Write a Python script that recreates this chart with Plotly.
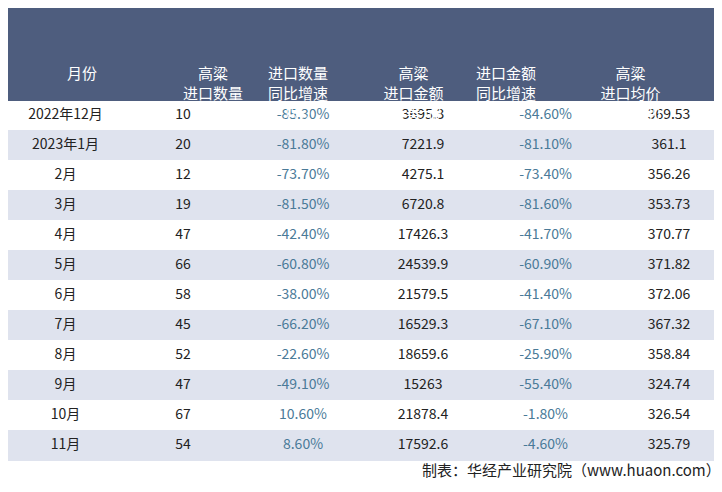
import plotly.graph_objects as go

months = ["2022年12月","2023年1月","2月","3月","4月","5月","6月","7月","8月","9月","10月","11月"]
qty = ["10","20","12","19","47","66","58","45","52","47","67","54"]
qty_yoy = ["-85.30%","-81.80%","-73.70%","-81.50%","-42.40%","-60.80%","-38.00%","-66.20%","-22.60%","-49.10%","10.60%","8.60%"]
amt = ["3695.3","7221.9","4275.1","6720.8","17426.3","24539.9","21579.5","16529.3","18659.6","15263","21878.4","17592.6"]
amt_yoy = ["-84.60%","-81.10%","-73.40%","-81.60%","-41.70%","-60.90%","-41.40%","-67.10%","-25.90%","-55.40%","-1.80%","-4.60%"]
price = ["369.53","361.1","356.26","353.73","370.77","371.82","372.06","367.32","358.84","324.74","326.54","325.79"]
headers = ["月份","高粱<br>进口数量<br>（万吨）","进口数量<br>同比增速<br>（%）","高粱<br>进口金额<br>（万美元）","进口金额<br>同比增速<br>（%）","高粱<br>进口均价<br>(美元/吨)"]
header_x = [57, 173, 290, 405, 530, 655]

fills = ["#ffffff" if i % 2 == 0 else "#dfe3ee" for i in range(len(months))]
dark = "#222222"; blue = "#4a7a98"; hdr = "#4e5d7e"
fig = go.Figure(go.Table(
    columnwidth=[115,120,120,120,125,122],
    header=dict(values=[""]*6, fill_color=hdr, line_color=hdr, height=92),
    cells=dict(values=[months, qty, qty_yoy, amt, amt_yoy, price],
               fill_color=[fills]*6, line_color=[fills]*6,
               font=dict(color=[dark, dark, blue, dark, blue, dark], size=14,
                         family="Noto Sans CJK SC"),
               align="center", height=30),
    domain=dict(x=[0,1], y=[0.06,1])))
fig.add_shape(type="rect", xref="paper", yref="paper", x0=0, x1=1, y0=1-100/492, y1=1,
              fillcolor=hdr, line_width=0, layer="below")
for h, x in zip(headers, header_x):
    fig.add_annotation(text=h, x=x/722, y=1-52/492, xref="paper", yref="paper",
                       showarrow=False, align="center",
                       font=dict(size=15, color="white", family="Noto Sans CJK SC"))
fig.add_annotation(text="制表：华经产业研究院（www.huaon.com）", x=0.99, y=0.037,
                   xref="paper", yref="paper", xanchor="right", showarrow=False,
                   font=dict(size=15, color="#222222", family="Noto Sans CJK SC"))
fig.add_shape(type="rect", xref="paper", yref="paper", x0=0, x1=1, y0=0, y1=0.01,
              fillcolor=hdr, line_width=0)
fig.update_layout(width=722, height=492, margin=dict(l=0, r=0, t=0, b=0),
                  paper_bgcolor="white")
fig.write_html("out.html")
